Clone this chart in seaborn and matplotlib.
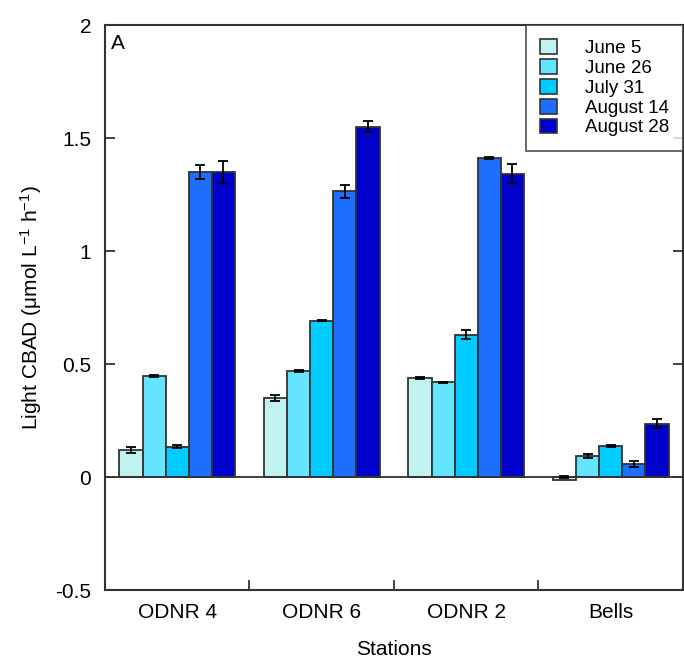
import pandas as pd
import seaborn as sb
import matplotlib
matplotlib.use('Agg')
import matplotlib.pyplot as plt
from matplotlib.ticker import FuncFormatter, MultipleLocator, FixedLocator

# Data
stations = ['ODNR 4', 'ODNR 6', 'ODNR 2', 'Bells']
dates = ['June 5', 'June 26', 'July 31', 'August 14', 'August 28']

june5 = [0.120, 0.350, 0.438, -0.012]
june26 = [0.447, 0.470, 0.420, 0.093]
july31 = [0.135, 0.692, 0.630, 0.137]
aug14 = [1.350, 1.265, 1.412, 0.057]
aug28 = [1.350, 1.550, 1.342, 0.235]

june5_err = [0.015, 0.015, 0.003, 0.006]
june26_err = [0.003, 0.004, 0.002, 0.010]
july31_err = [0.005, 0.002, 0.020, 0.005]
aug14_err = [0.030, 0.028, 0.004, 0.012]
aug28_err = [0.050, 0.025, 0.043, 0.020]

colors = ['#C2F3F3', '#64E4FF', '#00CCFF', '#1E6EFF', '#0000CC']

values = [june5, june26, july31, aug14, aug28]
errors = [june5_err, june26_err, july31_err, aug14_err, aug28_err]

rows = []
for d, v in zip(dates, values):
    for s, val in zip(stations, v):
        rows.append({'Station': s, 'Date': d, 'Value': val})
Data = pd.DataFrame(rows)

## Chart
sb.set_style('white')
plt.rcParams['font.family'] = ['Liberation Sans', 'DejaVu Sans']
plt.rcParams['mathtext.fontset'] = 'custom'
plt.rcParams['mathtext.rm'] = 'Liberation Sans'
plt.rcParams['mathtext.it'] = 'Liberation Sans'
plt.rcParams['axes.unicode_minus'] = False
plt.rcParams['text.color'] = 'black'
plt.rcParams['axes.labelcolor'] = 'black'
plt.rcParams['xtick.labelcolor'] = 'black'
plt.rcParams['ytick.labelcolor'] = 'black'

fig = plt.figure(figsize=(6.84, 6.6), dpi=100)
ax = fig.add_axes([0.1535, 0.106, 0.845, 0.856])

sb.barplot(data=Data, x='Station', y='Value', hue='Date', order=stations,
           hue_order=dates, palette=colors, width=0.8, gap=0,
           edgecolor='#333333', linewidth=1.3, saturation=1, ax=ax)

# error bars on top of bars
for cont, err in zip(ax.containers, errors):
    xs = [b.get_x() + b.get_width() / 2 for b in cont]
    ys = [b.get_y() + b.get_height() if b.get_height() >= 0 else b.get_y() for b in cont]
    ax.errorbar(xs, ys, yerr=err, fmt='none', ecolor='black',
                elinewidth=1.3, capsize=3.5, capthick=1.3, zorder=5)

ax.axhline(0, color='#333333', linewidth=1.3, zorder=4)

ax.set_ylim(-0.5, 2)
ax.set_xlim(-0.5, 3.5)
ax.yaxis.set_major_locator(MultipleLocator(0.5))
ax.yaxis.set_major_formatter(FuncFormatter(lambda v, p: '%g' % v))
ax.xaxis.set_minor_locator(FixedLocator([0.5, 1.5, 2.5]))

ax.tick_params(axis='y', direction='in', length=7, width=1.3, left=True,
               right=True, labelsize=15, pad=10, color='#333333')
ax.tick_params(axis='x', which='major', length=0, labelsize=15, pad=9)
ax.tick_params(axis='x', which='minor', direction='in', length=7, width=1.3,
               bottom=True, color='#333333')

for sp in ax.spines.values():
    sp.set_color('#333333')
    sp.set_linewidth(1.5)

ax.set_xlabel('Stations', fontsize=15, labelpad=13)
ax.set_ylabel('Light CBAD (μmol L$^{-1}$ h$^{-1}$)', fontsize=15, labelpad=8)

ax.text(0.01, 0.985, 'A', transform=ax.transAxes, fontsize=15, va='top', ha='left')

leg = ax.legend(loc='upper right', fontsize=13.5, frameon=True, fancybox=False,
                edgecolor='#333333', borderaxespad=0, handlelength=0.9,
                handleheight=0.85, handletextpad=1.5, labelspacing=0.1,
                borderpad=0.75, title=None)
leg.get_frame().set_linewidth(1.3)
for h in leg.legend_handles:
    h.set_edgecolor('#333333')
    h.set_linewidth(1.2)

plt.savefig('out.png', dpi=100)
